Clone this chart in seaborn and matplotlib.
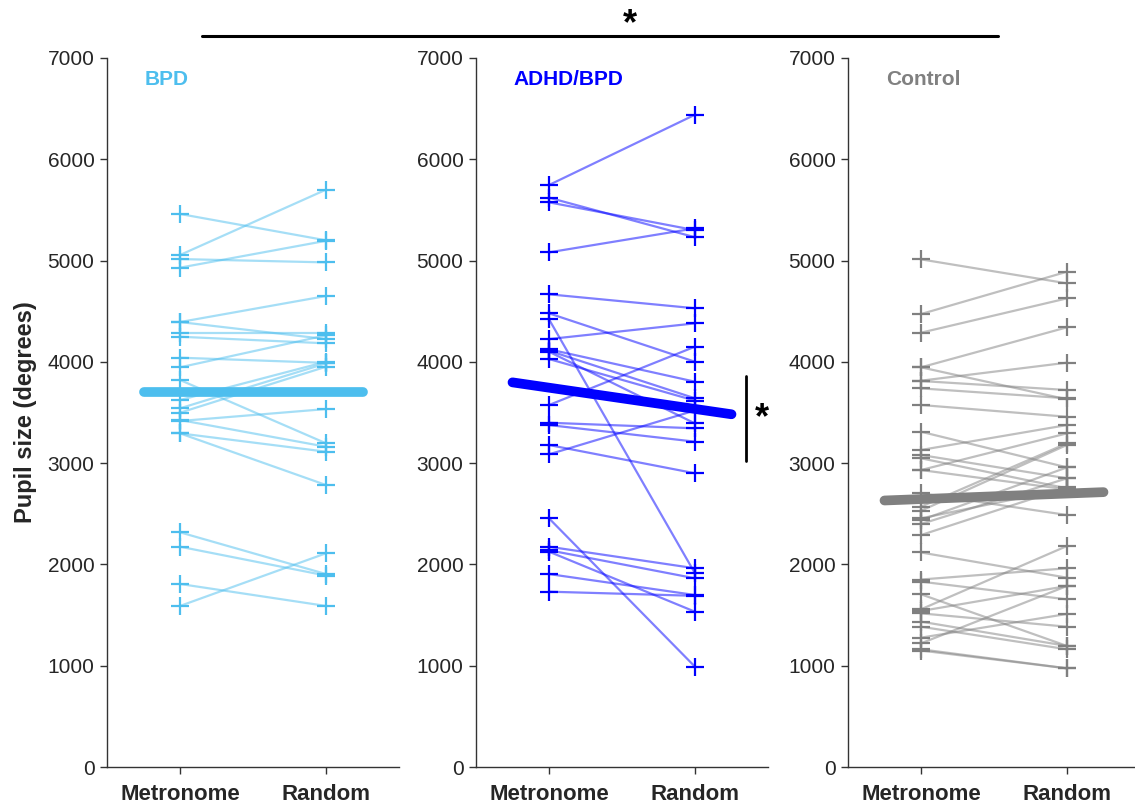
import numpy as np
import pandas as pd
import matplotlib
matplotlib.use("Agg")
import matplotlib.pyplot as plt
import seaborn as sns

# ---------------- data ----------------
conditions = ["Metronome", "Random"]
groups = ["BPD", "ADHD/BPD", "Control"]
colors = {"BPD": "#4DBEEE", "ADHD/BPD": "#0000FF", "Control": "#808080"}

bpd_metronome = [5460, 5055, 5015, 4930, 4393, 4393, 4282, 4248, 4041, 3946, 3821,
                 3623, 3541, 3498, 3416, 3426, 3294, 3294, 2317, 2175, 1807, 1590]
bpd_random = [5200, 5700, 4982, 5195, 4650, 4225, 4282, 4183, 3990, 4262, 3196,
              4001, 3985, 3952, 3534, 3162, 3113, 2784, 1905, 1890, 1590, 2110]

adhd_metronome = [5746, 5621, 5575, 5081, 4667, 4479, 4420, 4225, 4124, 4110, 4100,
                  4028, 3574, 3399, 3376, 3179, 3087, 2455, 2175, 2140, 2126, 1905, 1731]
adhd_random = [6440, 5230, 5300, 5318, 4529, 4001, 1912, 4380, 3804, 3640, 3392,
               3617, 4150, 3344, 3212, 2900, 3520, 990, 1962, 1863, 1533, 1698, 1690]

control_metronome = [5012, 4472, 4288, 3946, 3946, 3814, 3811, 3738, 3574, 3310, 3130,
                     3080, 3048, 2932, 2932, 2702, 2570, 2530, 2455, 2438, 2399, 2290,
                     2118, 1851, 1830, 1705, 1557, 1540, 1517, 1435, 1385, 1277, 1221,
                     1162, 1150]
control_random = [4775, 4890, 4627, 4341, 3630, 3992, 3722, 3640, 3458, 2958, 3376,
                  2850, 2751, 3294, 2740, 2488, 3196, 3180, 2751, 2958, 2850, 2760,
                  1869, 1962, 1655, 1195, 2182, 1787, 1385, 1195, 1162, 1511, 1787,
                  974, 974]

# group mean lines (value at Metronome, value at Random)
mean_lines = {"BPD": [3700, 3700], "ADHD/BPD": [3745, 3535], "Control": [2645, 2700]}

yticks = [0, 1000, 2000, 3000, 4000, 5000, 6000, 7000]

raw = {"BPD": (bpd_metronome, bpd_random),
       "ADHD/BPD": (adhd_metronome, adhd_random),
       "Control": (control_metronome, control_random)}

rows = []
for g, (m, r) in raw.items():
    for i, (a, b) in enumerate(zip(m, r)):
        rows.append({"group": g, "subject": f"{g}_{i}", "x": 0, "value": a})
        rows.append({"group": g, "subject": f"{g}_{i}", "x": 1, "value": b})
df = pd.DataFrame(rows)

# ---------------- style ----------------
sns.set_style("ticks")
plt.rcParams["font.family"] = ["Liberation Sans", "DejaVu Sans"]
plt.rcParams["axes.edgecolor"] = "#333333"
plt.rcParams["xtick.color"] = "#333333"
plt.rcParams["ytick.color"] = "#333333"

fig = plt.figure(figsize=(11.35, 8.05), dpi=100)
W, H = 1135, 805
lefts = [107, 476, 848]
ax_w = 292
bottom_px, top_px = 767, 58

axes = []
for gi, g in enumerate(groups):
    ax = fig.add_axes([lefts[gi] / W, (H - bottom_px) / H, ax_w / W, (bottom_px - top_px) / H])
    axes.append(ax)
    sub = df[df.group == g]
    c = colors[g]
    sns.lineplot(data=sub, x="x", y="value", units="subject", estimator=None,
                 color=c, alpha=0.5, linewidth=1.6, ax=ax, legend=False)
    sns.scatterplot(data=sub, x="x", y="value", marker="+", s=180, linewidth=1.6,
                    color=c, ax=ax, legend=False, zorder=3)
    m0, m1 = mean_lines[g]
    xe = np.array([-0.25, 1.25])
    mdf = pd.DataFrame({"x": xe, "value": m0 + (m1 - m0) * xe})
    sns.lineplot(data=mdf, x="x", y="value", color=c, linewidth=7, ax=ax,
                 legend=False, zorder=4)

    ax.set_xlim(-0.5, 1.5)
    ax.set_ylim(0, 7000)
    ax.set_xticks([0, 1])
    ax.set_xticklabels(conditions, fontsize=16, fontweight="bold", color="#262626")
    ax.set_yticks(yticks)
    ax.set_yticklabels([str(t) for t in yticks], fontsize=15, color="#262626")
    ax.tick_params(axis="both", direction="out", length=5, width=1, pad=4)
    ax.tick_params(axis="x", pad=7)
    ax.set_xlabel("")
    ax.set_ylabel("")
    sns.despine(ax=ax)
    for sp in ["left", "bottom"]:
        ax.spines[sp].set_linewidth(1.0)
    ax.text(0.13, 0.969, g, transform=ax.transAxes, color=c, fontsize=15,
            fontweight="bold", ha="left", va="center")

axes[0].set_ylabel("Pupil size (degrees)", fontsize=17, fontweight="bold",
                   color="#262626", labelpad=8)

# significance annotation within ADHD/BPD panel
ax2 = axes[1]
ax2.plot([1.349, 1.349], [3020, 3860], color="black", lw=2, clip_on=False)
ax2.text(1.46, 3440, "*", fontsize=26, fontweight="bold", ha="center", va="center",
         color="black", clip_on=False)

# significance bar on top
fig.add_artist(plt.Line2D([202 / W, 998 / W], [1 - 36 / H, 1 - 36 / H], color="black", lw=2.2))
fig.text(630 / W, 1 - 25 / H, "*", fontsize=26, fontweight="bold", ha="center", va="center",
         color="black")

fig.savefig("out.png", dpi=100)
